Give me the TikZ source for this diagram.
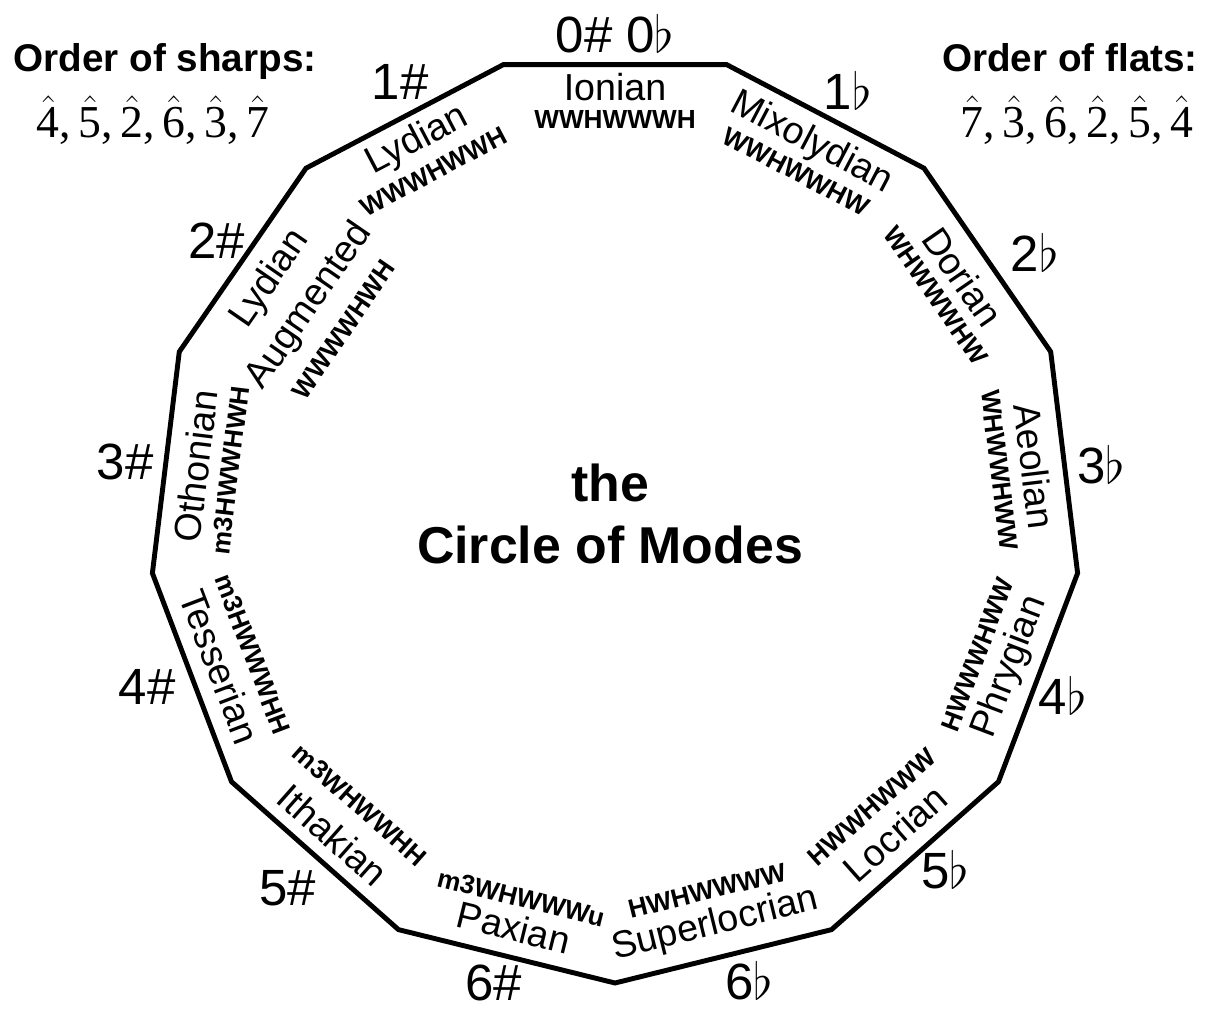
\RequirePackage{fix-cm}
\documentclass[tikz,border=0pt]{standalone}
\usepackage{fontspec}
\setmainfont{Liberation Sans}
\newfontfamily\numserif{Liberation Serif}
\usepackage{tikz}
\usetikzlibrary{calc}
\newcommand{\sdeg}[1]{\ensuremath{\hat{\mbox{\numserif #1}}}}
\tikzset{
  rim/.style     ={draw=black, line width=2.8pt, line join=miter},
  modename/.style={font=\fontsize{21.4}{27}\selectfont, inner sep=0pt, align=center},
  pat/.style     ={font=\fontsize{14.9}{18}\selectfont\bfseries, inner sep=0pt},
  keysig/.style  ={font=\fontsize{29}{34}\selectfont, inner sep=0pt},
  hdr/.style     ={font=\fontsize{22}{26}\selectfont\bfseries, inner sep=0pt},
  degs/.style    ={font=\fontsize{26}{30}\selectfont\numserif, inner sep=0pt},
}

\begin{document}
\begin{tikzpicture}
    \useasboundingbox (-12.3,-9.84) rectangle (11.9,10.34);
    \def\R{9.32}
    % the 13-gon, one edge per mode
    \foreach \k in {0,...,12} \coordinate (v\k) at ({-90+\k*360/13}:\R);
    \draw[rim] (v0) \foreach \k in {1,...,12}{ -- (v\k) } -- cycle;

    \foreach \k/\rn/\rp/\nm/\st in {
        6/8.6/7.95/Ionian/WWHWWWH,
        5/8.45/7.8/Mixolydian/WWHWWHW,
        4/8.45/7.8/Dorian/WHWWWHW,
        3/8.45/7.75/Aeolian/WHWWHWW,
        2/8.45/7.75/Phrygian/HWWWHWW,
        1/8.45/7.75/Locrian/HWWHWWW,
        0/8.4/7.7/Superlocrian/HWHWWWW,
        12/8.45/7.85/Paxian/m3WHWWWu,
        11/8.5/7.7/Ithakian/m3WHWWHH,
        10/8.45/7.75/Tesserian/m3HWWWHH,
        9/8.45/7.75/Othonian/m3HWWHWH,
        8/7.9/6.6/{Lydian\\Augmented}/WWWWHWH,
        7/8.5/7.8/Lydian/WWWHWWH}
    {
      \pgfmathsetmacro\a{-90+(\k+0.5)*360/13}
      \pgfmathsetmacro\rot{sin(\a)>=0 ? \a-90 : \a+90}
      \node[modename,rotate=\rot] (m\k) at (\a:\rn) {\nm};
      \node[pat,rotate=\rot] (s\k) at (\a:\rp) {\st};
    }

    % key signatures outside the rim
    \foreach \k/\ang/\r/\lab in {6/90/9.66/{0\# 0$\flat$}, 5/61.4/9.72/{1$\flat$},
        4/32.2/9.92/{2$\flat$}, 3/6.1/9.78/{3$\flat$}, 2/-21.7/9.64/{4$\flat$},
        1/-46.9/9.66/{5$\flat$}, 0/-73.9/9.66/{6$\flat$}, 12/-104.6/9.62/{6\#},
        11/-131.4/9.89/{5\#}, 10/-160/9.96/{4\#}, 9/173.6/9.86/{3\#},
        8/145.2/9.7/{2\#}, 7/116.3/9.7/{1\#}}
      \node[keysig] (k\k) at (\ang:\r) {\lab};

    \node[font=\fontsize{29.5}{35.7}\selectfont\bfseries,align=center] (ttl) at (-0.1,0.06) {the\\Circle of Modes};

    \node[hdr,anchor=base] (sh) at (-9.0,8.9) {Order of sharps:};
    \node[degs,anchor=base] (shd) at (-9.24,7.58)
        {\sdeg{4},\,\sdeg{5},\,\sdeg{2},\,\sdeg{6},\,\sdeg{3},\,\sdeg{7}};
    \node[hdr,anchor=base] (fl) at (9.1,8.9) {Order of flats:};
    \node[degs,anchor=base] (fld) at (9.24,7.58)
        {\sdeg{7},\,\sdeg{3},\,\sdeg{6},\,\sdeg{2},\,\sdeg{5},\,\sdeg{4}};
\end{tikzpicture}
\end{document}
